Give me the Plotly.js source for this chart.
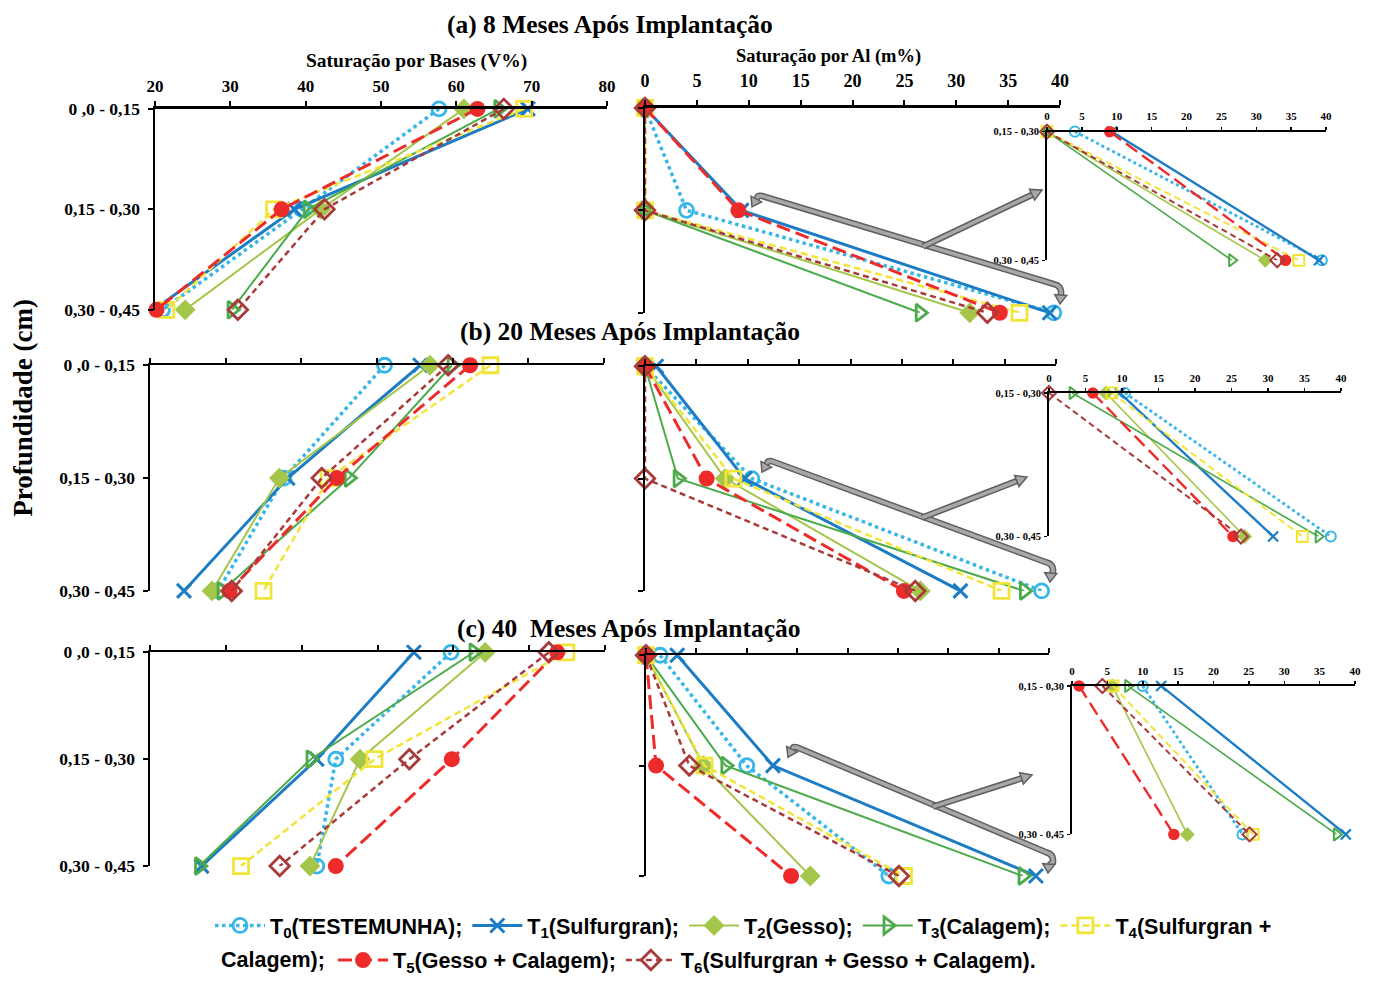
<!DOCTYPE html>
<html><head><meta charset="utf-8">
<script src="https://cdn.plot.ly/plotly-3.0.1.min.js"></script>
<style>html,body{margin:0;padding:0;background:#fff;}#chart{width:1374px;height:981px;}</style>
</head><body><div id="chart"></div>
<script>
// ---------- DATA ----------
const depthLabels = ['0 ,0 - 0,15', '0,15 - 0,30', '0,30 - 0,45'];
const depthIdx = [0, 1, 2];
const treatments = ['T<sub>0</sub>(TESTEMUNHA);', 'T<sub>1</sub>(Sulfurgran);', 'T<sub>2</sub>(Gesso);',
  'T<sub>3</sub>(Calagem);', 'T<sub>4</sub>(Sulfurgran +', 'T<sub>5</sub>(Gesso + Calagem);',
  'T<sub>6</sub>(Sulfurgran + Gesso + Calagem).'];
const legendTail = 'Calagem);';
const rowTitles = ['(a) 8 Meses Após Implantação', '(b) 20 Meses Após Implantação', '(c) 40  Meses Após Implantação'];
const vTicks = [20, 30, 40, 50, 60, 70, 80];
const mTicks = [0, 5, 10, 15, 20, 25, 30, 35, 40];

// Saturação por Bases (V%) – rows: T0..T6, values at the three depths
const V8 = [
  [57.7, 39.5, 21.0],
  [69.5, 38.5, 19.8],
  [61.0, 42.0, 24.0],
  [65.6, 40.3, 30.2],
  [69.0, 35.8, 21.5],
  [62.8, 36.8, 20.2],
  [66.3, 42.5, 31.0]
];
const V20 = [
  [51.0, 37.7, 29.0],
  [55.7, 38.2, 24.5],
  [57.0, 37.1, 28.2],
  [59.9, 46.3, 29.5],
  [65.0, 43.6, 35.0],
  [62.3, 44.7, 30.5],
  [59.4, 42.7, 30.8]
];
const V40 = [
  [59.7, 44.5, 42.0],
  [54.8, 42.0, 26.8],
  [64.2, 47.7, 41.1],
  [62.7, 41.2, 26.5],
  [74.9, 49.6, 32.0],
  [73.7, 59.8, 44.5],
  [72.6, 54.2, 37.1]
];
// Saturação por Al (m%)
const M8 = [
  [0, 4.0, 39.4],
  [0, 9.3, 39.0],
  [0, 0, 31.3],
  [0, 0, 26.5],
  [0, 0, 36.1],
  [0, 9.0, 34.2],
  [0, 0, 33.0]
];
const M20 = [
  [0, 10.4, 38.6],
  [1.1, 9.7, 30.7],
  [0, 7.8, 26.8],
  [0, 3.2, 36.9],
  [0, 8.6, 34.7],
  [0, 6.0, 25.2],
  [0, 0, 26.3]
];
const M40 = [
  [1.4, 10.0, 24.1],
  [3.1, 12.6, 38.7],
  [0, 5.7, 16.3],
  [0, 7.9, 37.4],
  [0, 5.8, 25.6],
  [0, 1.0, 14.4],
  [0, 4.3, 25.1]
];

// ---------- STYLE ----------
const colors = ['#38B6E8', '#1C7CC4', '#A4C64A', '#4CAA4A', '#F2E53A', '#EE2B2B', '#A83A3A'];
const dashes = ['dot', 'solid', 'solid', 'solid', '7px,4px', '14px,6px', '6px,4px'];
const widths = [3.5, 3, 2, 2, 2.5, 3, 2.5];
const symbols = ['circle-open', 'x-thin', 'diamond', 'triangle-right-open', 'square-open', 'circle', 'diamond-open'];
const mSizes = [14, 14, 16, 15, 15, 16, 15];

const W = 1374, H = 981;
const px = x => x / W;
const py = y => 1 - y / H;

// panel boxes in pixels: [x0, x1, yTop, yBottom]
const boxes = [
  { left: [155, 607, 110, 313], mid: [645, 1060, 109, 316], ins: [1047, 1326, 133, 263] },
  { left: [150, 604, 369, 597], mid: [645, 1056, 370, 597], ins: [1049, 1341, 397, 542] },
  { left: [150, 605, 659, 875], mid: [646, 1049, 662, 885], ins: [1072, 1355, 693, 843] }
];
const Vrows = [V8, V20, V40];
const Mrows = [M8, M20, M40];

const serif = 'Liberation Serif, Times New Roman, serif';
const sans = 'Liberation Sans, Arial, sans-serif';
const legFont = { family: sans, size: 21.5, weight: 'bold', color: '#000' };

const layout = {
  width: W, height: H, margin: { l: 0, r: 0, t: 0, b: 0 },
  paper_bgcolor: '#fff', plot_bgcolor: 'rgba(0,0,0,0)',
  showlegend: true,
  legend: {
    orientation: 'h', x: px(210), y: py(935), xanchor: 'left', yanchor: 'middle',
    font: legFont, itemwidth: 50,
    bgcolor: 'rgba(0,0,0,0)', itemclick: false, itemdoubleclick: false, traceorder: 'normal'
  },
  legend2: {
    orientation: 'h', x: px(333), y: py(970), xanchor: 'left', yanchor: 'middle',
    font: legFont, itemwidth: 50,
    bgcolor: 'rgba(0,0,0,0)', itemclick: false, itemdoubleclick: false, traceorder: 'normal'
  },
  annotations: [], shapes: []
};

function axisBase() {
  return {
    showline: true, linewidth: 2.5, linecolor: '#000', ticks: 'outside', ticklen: 5, tickwidth: 2,
    tickcolor: '#000', showgrid: false, zeroline: false, fixedrange: true
  };
}

const traces = [];
let n = 0;
for (let r = 0; r < 3; r++) {
  const b = boxes[r];
  const panels = [
    { key: 'left', range: [20, 80], ticks: vTicks, data: Vrows[r], inset: false,
      xLabels: r === 0, yLabels: true, tf: 17, yf: 17.5, xso: 3, yso: 4 },
    { key: 'mid', range: [0, 40], ticks: mTicks, data: Mrows[r], inset: false,
      xLabels: r === 0, yLabels: false, tf: 18, yf: 15, xso: 6, yso: 2 },
    { key: 'ins', range: [0, 40], ticks: mTicks, data: Mrows[r], inset: true,
      xLabels: true, yLabels: true, tf: 11, yf: 10.5, xso: 2, yso: 1 }
  ];
  panels.forEach(p => {
    n++;
    const bx = b[p.key];
    const xa = axisBase(), ya = axisBase();
    Object.assign(xa, {
      domain: [px(bx[0]), px(bx[1])], range: p.range, side: 'top', anchor: 'y' + n,
      tickvals: p.ticks, showticklabels: p.xLabels, ticklabelstandoff: p.xso,
      ticklen: p.inset ? 3 : 5, tickwidth: p.inset ? 1.5 : 2, linewidth: p.inset ? 1.8 : 2.5,
      tickfont: { family: serif, size: p.tf, weight: 'bold', color: '#000' }
    });
    Object.assign(ya, {
      domain: [py(bx[3]), py(bx[2])], range: p.inset ? [2, 1] : [2, 0], anchor: 'x' + n,
      tickvals: p.inset ? depthIdx.slice(1) : depthIdx,
      ticktext: p.inset ? depthLabels.slice(1) : depthLabels,
      showticklabels: p.yLabels, ticklabelstandoff: p.yso,
      ticklen: p.inset ? 3 : 5, tickwidth: p.inset ? 1.5 : 2, linewidth: p.inset ? 1.8 : 2.5,
      tickfont: { family: serif, size: p.yf, weight: 'bold', color: '#000' }
    });
    layout['xaxis' + n] = xa;
    layout['yaxis' + n] = ya;

    for (let t = 0; t < 7; t++) {
      const xs = p.inset ? p.data[t].slice(1) : p.data[t];
      const ys = p.inset ? depthIdx.slice(1) : depthIdx;
      const sc = p.inset ? 0.72 : 1;
      const isX = symbols[t] === 'x-thin';
      const open = symbols[t].indexOf('open') >= 0;
      traces.push({
        type: 'scatter', mode: 'lines+markers', x: xs, y: ys,
        xaxis: 'x' + n, yaxis: 'y' + n, cliponaxis: false,
        name: treatments[t], legendgroup: 'T' + t,
        showlegend: (r === 0 && p.key === 'left'),
        legend: t <= 4 ? 'legend' : 'legend2',
        line: { color: colors[t], width: widths[t] * (p.inset ? 0.8 : 1), dash: dashes[t] },
        marker: {
          symbol: symbols[t], size: mSizes[t] * sc, color: colors[t],
          line: { color: colors[t], width: isX ? 3 * sc : (open ? 2.8 * sc : 0) }
        },
        hoverinfo: 'x+y'
      });
    }
  });

  const titleX = [610, 630, 629][r];
  const titleY = [25, 335, 635][r];
  layout.annotations.push({
    xref: 'paper', yref: 'paper', x: px(titleX), y: py(titleY), text: rowTitles[r],
    showarrow: false, xanchor: 'center', yanchor: 'middle',
    font: { family: serif, size: 25.5, weight: 'bold', color: '#000' }
  });
}

// axis titles
layout.annotations.push({
  xref: 'paper', yref: 'paper', x: px(416), y: py(62), text: 'Saturação por Bases (V%)',
  showarrow: false, xanchor: 'center', yanchor: 'middle',
  font: { family: serif, size: 19.5, weight: 'bold', color: '#000' }
});
layout.annotations.push({
  xref: 'paper', yref: 'paper', x: px(828), y: py(57), text: 'Saturação por Al (m%)',
  showarrow: false, xanchor: 'center', yanchor: 'middle',
  font: { family: serif, size: 18.5, weight: 'bold', color: '#000' }
});
layout.annotations.push({
  xref: 'paper', yref: 'paper', x: px(23), y: py(412), text: 'Profundidade (cm)', textangle: -90,
  showarrow: false, xanchor: 'center', yanchor: 'middle',
  font: { family: serif, size: 27, weight: 'bold', color: '#000' }
});
// legend continuation
layout.annotations.push({
  xref: 'paper', yref: 'paper', x: px(219), y: py(970), text: legendTail,
  showarrow: false, xanchor: 'left', yanchor: 'middle', font: legFont
});

// decorative gray pointer arrows (zoom indicators)
const hooks = [
  { lt: [752, 209], lc: [758, 198], rc: [1058, 289], rt: [1060, 307], s0: [923, 249], s1: [1042, 192] },
  { lt: [762, 477], lc: [768, 466], rc: [1050, 570], rt: [1050, 588], s0: [922, 523], s1: [1027, 482] },
  { lt: [788, 765], lc: [793, 755], rc: [1050, 863], rt: [1048, 882], s0: [933, 815], s1: [1032, 783] }
];
const P = (x, y) => px(x) + ',' + py(y);
function headPath(tip, from, len, half) {
  const dx = tip[0] - from[0], dy = tip[1] - from[1];
  const L = Math.hypot(dx, dy), ux = dx / L, uy = dy / L;
  const bx = tip[0] - ux * len, by = tip[1] - uy * len;
  return 'M ' + P(tip[0], tip[1]) + ' L ' + P(bx - uy * half, by + ux * half) +
    ' L ' + P(bx + uy * half, by - ux * half) + ' Z';
}
function shaftEnd(tip, from, len) {
  const dx = tip[0] - from[0], dy = tip[1] - from[1];
  const L = Math.hypot(dx, dy);
  return [tip[0] - dx / L * len, tip[1] - dy / L * len];
}
const darkG = '#5f5f5f', lightG = '#a8a8a8';
function addStroke(d) {
  layout.shapes.push({ type: 'path', xref: 'paper', yref: 'paper', path: d, line: { color: darkG, width: 6.5 }, layer: 'above' });
  layout.shapes.push({ type: 'path', xref: 'paper', yref: 'paper', path: d, line: { color: lightG, width: 3.5 }, layer: 'above' });
}
function addHead(tip, from, len, half) {
  layout.shapes.push({ type: 'path', xref: 'paper', yref: 'paper', path: headPath(tip, from, len, half),
    fillcolor: lightG, line: { color: darkG, width: 1.5 }, layer: 'above' });
}
hooks.forEach(h => {
  const d = 'M ' + P(h.lt[0] + 3, h.lt[1] - 7) + ' L ' + P(h.lc[0] - 1, h.lc[1] + 2) +
    ' Q ' + P(h.lc[0], h.lc[1] - 1) + ' ' + P(h.lc[0] + 4, h.lc[1]) +
    ' L ' + P(h.rc[0] - 4, h.rc[1] - 2) +
    ' Q ' + P(h.rc[0] + 4, h.rc[1]) + ' ' + P(h.rc[0] + 3, h.rc[1] + 8) +
    ' L ' + P(h.rt[0] + 1, h.rt[1] - 8);
  addStroke(d);
  addHead(h.lt, [h.lc[0], h.lc[1]], 9, 6);
  addHead(h.rt, [h.rt[0] + 1, h.rt[1] - 12], 9, 6);
  const se = shaftEnd(h.s1, h.s0, 8);
  addStroke('M ' + P(h.s0[0], h.s0[1]) + ' L ' + P(se[0], se[1]));
  addHead(h.s1, h.s0, 11, 6);
});

Plotly.newPlot('chart', traces, layout, { displayModeBar: false, staticPlot: true });
</script>
</body></html>
